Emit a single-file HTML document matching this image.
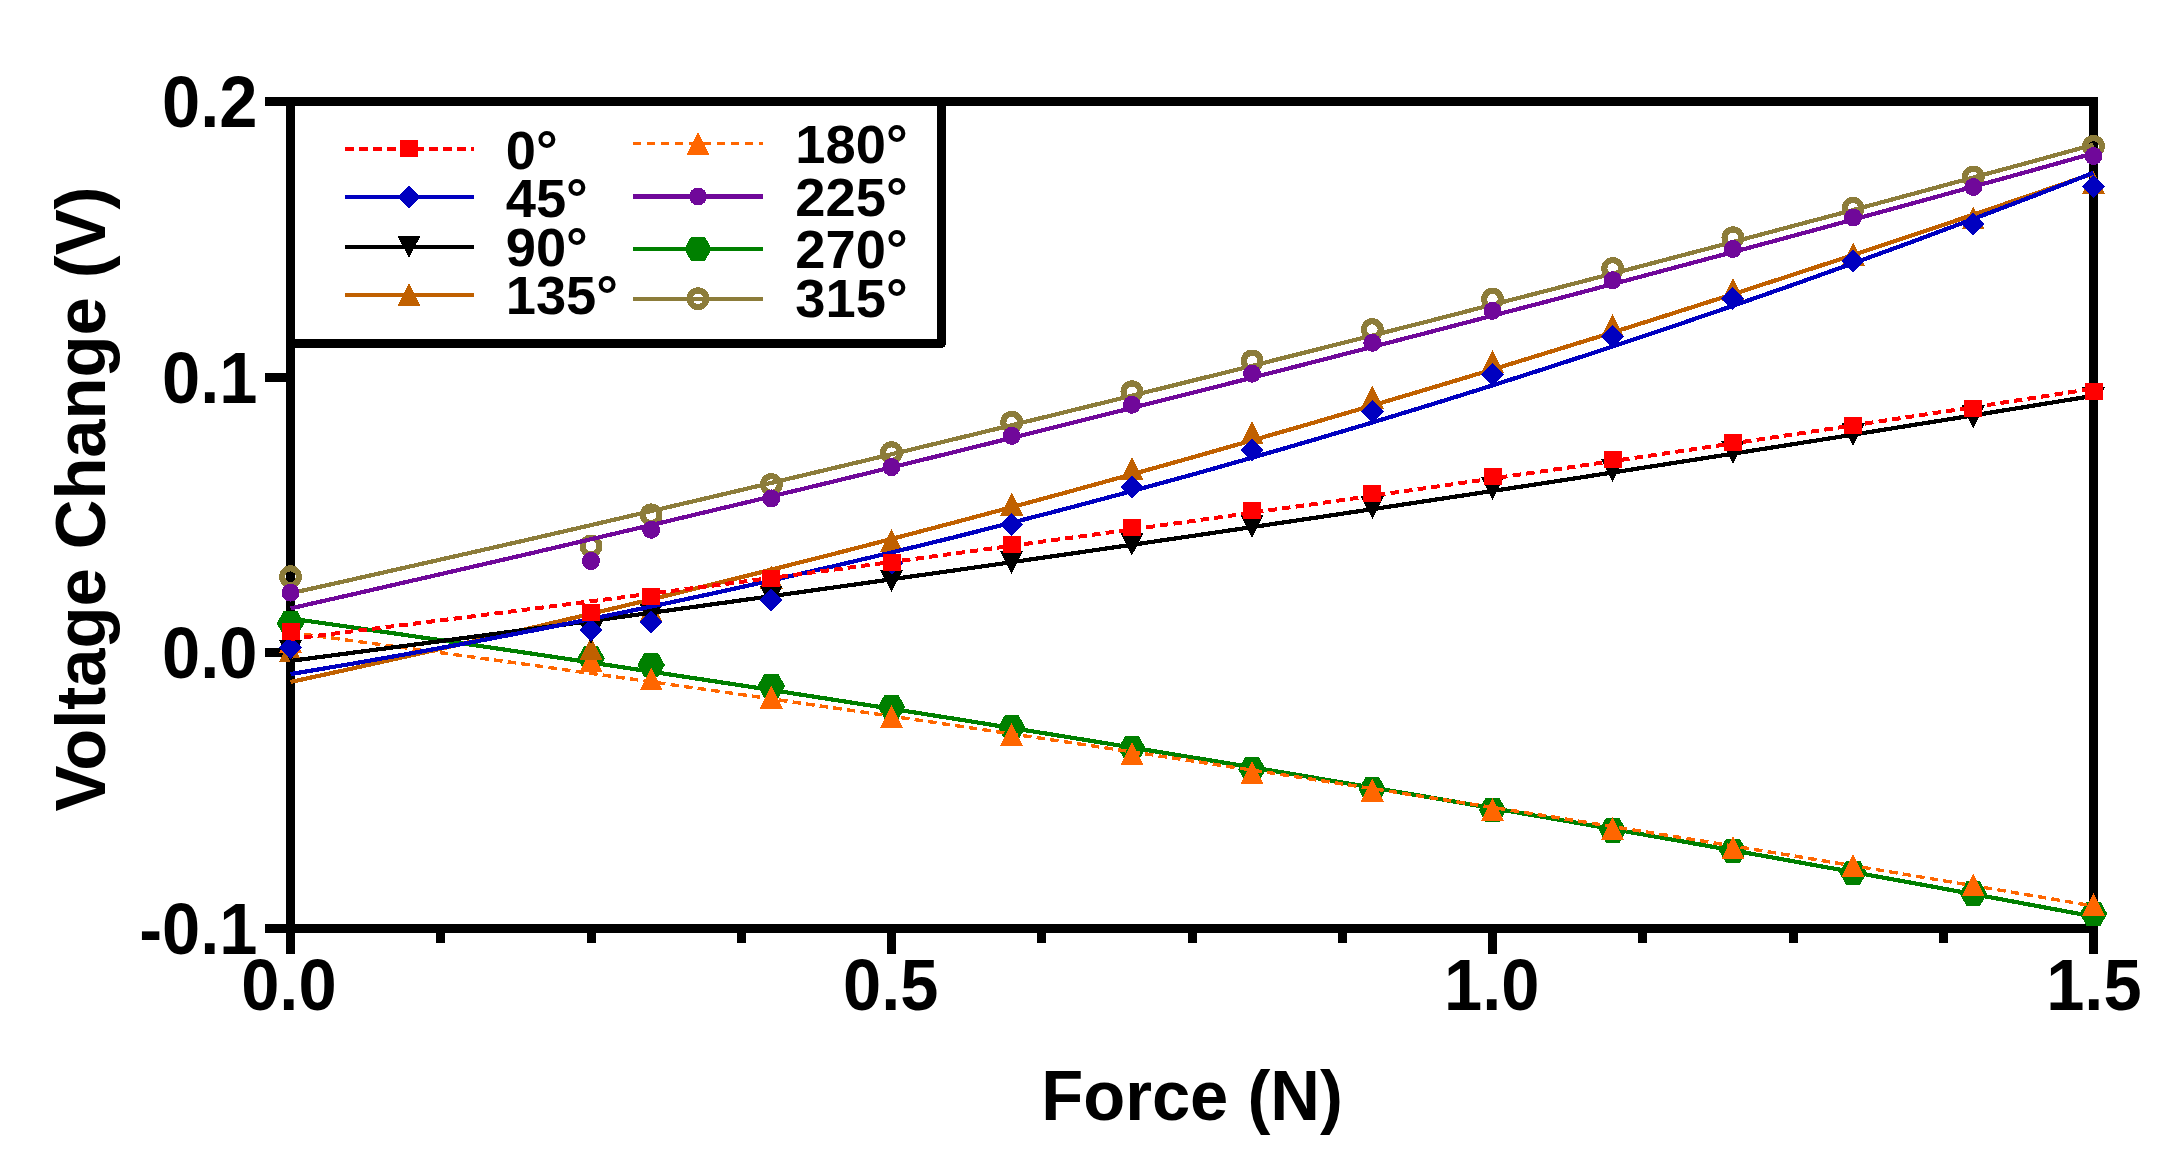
<!DOCTYPE html><html><head><meta charset="utf-8"><title>Voltage Change vs Force</title>
<style>html,body{margin:0;padding:0;background:#fff}body{width:2183px;height:1164px;overflow:hidden}svg{display:block}text{font-family:"Liberation Sans",Arial,sans-serif;font-weight:bold;fill:#000}</style></head><body>
<svg width="2183" height="1164" viewBox="0 0 2183 1164">
<rect width="2183" height="1164" fill="#fff"/>
<g shape-rendering="crispEdges">
<rect x="290.5" y="101.5" width="1803.0" height="827.0" fill="none" stroke="#000" stroke-width="9"/>
<rect x="265" y="97" width="26" height="9" fill="#000"/>
<rect x="265" y="372.7" width="26" height="9" fill="#000"/>
<rect x="265" y="648.3" width="26" height="9" fill="#000"/>
<rect x="265" y="924" width="26" height="9" fill="#000"/>
<rect x="286" y="928" width="9" height="26" fill="#000"/>
<rect x="436.2" y="928" width="9" height="15" fill="#000"/>
<rect x="586.5" y="928" width="9" height="15" fill="#000"/>
<rect x="736.8" y="928" width="9" height="15" fill="#000"/>
<rect x="887" y="928" width="9" height="26" fill="#000"/>
<rect x="1037.2" y="928" width="9" height="15" fill="#000"/>
<rect x="1187.5" y="928" width="9" height="15" fill="#000"/>
<rect x="1337.8" y="928" width="9" height="15" fill="#000"/>
<rect x="1488" y="928" width="9" height="26" fill="#000"/>
<rect x="1638.2" y="928" width="9" height="15" fill="#000"/>
<rect x="1788.5" y="928" width="9" height="15" fill="#000"/>
<rect x="1938.8" y="928" width="9" height="15" fill="#000"/>
<rect x="2089" y="928" width="9" height="26" fill="#000"/>
<rect x="290.5" y="101.5" width="651.0" height="242.0" fill="#fff" stroke="#000" stroke-width="9" stroke-linejoin="round"/>
<rect x="290.5" y="101.5" width="1803.0" height="827.0" fill="none" stroke="#000" stroke-width="9"/>
<polyline points="290.5,593.3 350.6,579.9 410.7,566.3 470.8,552.7 530.9,539 591,525.1 651.1,511.1 711.2,497.1 771.3,482.9 831.4,468.6 891.5,454.3 951.6,439.8 1011.7,425.2 1071.8,410.5 1131.9,395.7 1192,380.8 1252.1,365.8 1312.2,350.7 1372.3,335.5 1432.4,320.2 1492.5,304.7 1552.6,289.2 1612.7,273.6 1672.8,257.8 1732.9,242 1793,226 1853.1,210 1913.2,193.8 1973.3,177.5 2033.4,161.2 2093.5,144.7" fill="none" stroke="#8c7c3a" stroke-width="4.2"/>
<circle cx="290.5" cy="576.7" r="8.35" fill="none" stroke="#8c7c3a" stroke-width="6.2"/>
<circle cx="591" cy="546" r="8.35" fill="none" stroke="#8c7c3a" stroke-width="6.2"/>
<circle cx="651.1" cy="514.9" r="8.35" fill="none" stroke="#8c7c3a" stroke-width="6.2"/>
<circle cx="771.3" cy="484.5" r="8.35" fill="none" stroke="#8c7c3a" stroke-width="6.2"/>
<circle cx="891.5" cy="452.6" r="8.35" fill="none" stroke="#8c7c3a" stroke-width="6.2"/>
<circle cx="1011.7" cy="422.2" r="8.35" fill="none" stroke="#8c7c3a" stroke-width="6.2"/>
<circle cx="1131.9" cy="391.8" r="8.35" fill="none" stroke="#8c7c3a" stroke-width="6.2"/>
<circle cx="1252.1" cy="361" r="8.35" fill="none" stroke="#8c7c3a" stroke-width="6.2"/>
<circle cx="1372.3" cy="329.6" r="8.35" fill="none" stroke="#8c7c3a" stroke-width="6.2"/>
<circle cx="1492.5" cy="299.2" r="8.35" fill="none" stroke="#8c7c3a" stroke-width="6.2"/>
<circle cx="1612.7" cy="268.5" r="8.35" fill="none" stroke="#8c7c3a" stroke-width="6.2"/>
<circle cx="1732.9" cy="237.8" r="8.35" fill="none" stroke="#8c7c3a" stroke-width="6.2"/>
<circle cx="1853.1" cy="208.3" r="8.35" fill="none" stroke="#8c7c3a" stroke-width="6.2"/>
<circle cx="1973.3" cy="177" r="8.35" fill="none" stroke="#8c7c3a" stroke-width="6.2"/>
<circle cx="2093.5" cy="146.4" r="8.35" fill="none" stroke="#8c7c3a" stroke-width="6.2"/>
<polyline points="290.5,618.5 350.6,627.1 410.7,635.8 470.8,644.6 530.9,653.5 591,662.5 651.1,671.6 711.2,680.8 771.3,690 831.4,699.4 891.5,708.8 951.6,718.3 1011.7,728 1071.8,737.7 1131.9,747.5 1192,757.4 1252.1,767.3 1312.2,777.4 1372.3,787.6 1432.4,797.8 1492.5,808.2 1552.6,818.6 1612.7,829.1 1672.8,839.7 1732.9,850.4 1793,861.2 1853.1,872.1 1913.2,883.1 1973.3,894.1 2033.4,905.3 2093.5,916.5" fill="none" stroke="#008000" stroke-width="4.2"/>
<path d="M276.7 623.4L283.6 611.2L297.4 611.2L304.3 623.4L297.4 635.6L283.6 635.6Z" fill="#008000"/>
<path d="M577.2 658.5L584.1 646.3L597.9 646.3L604.8 658.5L597.9 670.7L584.1 670.7Z" fill="#008000"/>
<path d="M637.3 665L644.2 652.8L658 652.8L664.9 665L658 677.2L644.2 677.2Z" fill="#008000"/>
<path d="M757.5 686L764.4 673.8L778.2 673.8L785.1 686L778.2 698.2L764.4 698.2Z" fill="#008000"/>
<path d="M877.7 707L884.6 694.8L898.4 694.8L905.3 707L898.4 719.2L884.6 719.2Z" fill="#008000"/>
<path d="M997.9 727.4L1004.8 715.2L1018.6 715.2L1025.5 727.4L1018.6 739.6L1004.8 739.6Z" fill="#008000"/>
<path d="M1118.1 748.3L1125 736.1L1138.8 736.1L1145.7 748.3L1138.8 760.5L1125 760.5Z" fill="#008000"/>
<path d="M1238.3 769.4L1245.2 757.2L1259 757.2L1265.9 769.4L1259 781.6L1245.2 781.6Z" fill="#008000"/>
<path d="M1358.5 789.4L1365.4 777.2L1379.2 777.2L1386.1 789.4L1379.2 801.6L1365.4 801.6Z" fill="#008000"/>
<path d="M1478.7 810L1485.6 797.8L1499.4 797.8L1506.3 810L1499.4 822.2L1485.6 822.2Z" fill="#008000"/>
<path d="M1598.9 830.4L1605.8 818.2L1619.6 818.2L1626.5 830.4L1619.6 842.6L1605.8 842.6Z" fill="#008000"/>
<path d="M1719.1 850.9L1726 838.7L1739.8 838.7L1746.7 850.9L1739.8 863.1L1726 863.1Z" fill="#008000"/>
<path d="M1839.3 872.7L1846.2 860.5L1860 860.5L1866.9 872.7L1860 884.9L1846.2 884.9Z" fill="#008000"/>
<path d="M1959.5 893.6L1966.4 881.4L1980.2 881.4L1987.1 893.6L1980.2 905.8L1966.4 905.8Z" fill="#008000"/>
<path d="M2079.7 913.7L2086.6 901.5L2100.4 901.5L2107.3 913.7L2100.4 925.9L2086.6 925.9Z" fill="#008000"/>
<polyline points="290.5,608.4 350.6,594.8 410.7,581 470.8,567.2 530.9,553.3 591,539.2 651.1,525.1 711.2,510.8 771.3,496.5 831.4,482 891.5,467.4 951.6,452.7 1011.7,437.9 1071.8,423 1131.9,408 1192,392.9 1252.1,377.7 1312.2,362.4 1372.3,346.9 1432.4,331.4 1492.5,315.7 1552.6,300 1612.7,284.1 1672.8,268.1 1732.9,252.1 1793,235.9 1853.1,219.6 1913.2,203.2 1973.3,186.7 2033.4,170.1 2093.5,153.3" fill="none" stroke="#70089a" stroke-width="4.2"/>
<circle cx="290.5" cy="592.6" r="9" fill="#70089a"/>
<circle cx="591" cy="561" r="9" fill="#70089a"/>
<circle cx="651.1" cy="529.8" r="9" fill="#70089a"/>
<circle cx="771.3" cy="498.4" r="9" fill="#70089a"/>
<circle cx="891.5" cy="467.1" r="9" fill="#70089a"/>
<circle cx="1011.7" cy="435.9" r="9" fill="#70089a"/>
<circle cx="1131.9" cy="404.8" r="9" fill="#70089a"/>
<circle cx="1252.1" cy="373.7" r="9" fill="#70089a"/>
<circle cx="1372.3" cy="342.8" r="9" fill="#70089a"/>
<circle cx="1492.5" cy="310.9" r="9" fill="#70089a"/>
<circle cx="1612.7" cy="280.2" r="9" fill="#70089a"/>
<circle cx="1732.9" cy="249" r="9" fill="#70089a"/>
<circle cx="1853.1" cy="217.5" r="9" fill="#70089a"/>
<circle cx="1973.3" cy="187" r="9" fill="#70089a"/>
<circle cx="2093.5" cy="156" r="9" fill="#70089a"/>
<polyline points="290.5,632.4 350.6,640.5 410.7,648.6 470.8,656.8 530.9,665 591,673.4 651.1,681.8 711.2,690.3 771.3,698.9 831.4,707.5 891.5,716.2 951.6,725 1011.7,733.9 1071.8,742.8 1131.9,751.8 1192,760.9 1252.1,770.1 1312.2,779.3 1372.3,788.6 1432.4,798 1492.5,807.4 1552.6,816.9 1612.7,826.6 1672.8,836.2 1732.9,846 1793,855.8 1853.1,865.7 1913.2,875.7 1973.3,885.7 2033.4,895.8 2093.5,906" fill="none" stroke="#ff6600" stroke-width="3.4" stroke-dasharray="8.5 5.2"/>
<path d="M279 653.1L302 653.1L290.5 630.1Z" fill="#ff6600"/>
<path d="M579.5 672.3L602.5 672.3L591 649.3Z" fill="#ff6600"/>
<path d="M639.6 690.4L662.6 690.4L651.1 667.4Z" fill="#ff6600"/>
<path d="M759.8 708.7L782.8 708.7L771.3 685.7Z" fill="#ff6600"/>
<path d="M880 727.9L903 727.9L891.5 704.9Z" fill="#ff6600"/>
<path d="M1000.2 746.1L1023.2 746.1L1011.7 723.1Z" fill="#ff6600"/>
<path d="M1120.4 765.1L1143.4 765.1L1131.9 742.1Z" fill="#ff6600"/>
<path d="M1240.6 783.9L1263.6 783.9L1252.1 760.9Z" fill="#ff6600"/>
<path d="M1360.8 801.8L1383.8 801.8L1372.3 778.8Z" fill="#ff6600"/>
<path d="M1481 821.4L1504 821.4L1492.5 798.4Z" fill="#ff6600"/>
<path d="M1601.2 840.1L1624.2 840.1L1612.7 817.1Z" fill="#ff6600"/>
<path d="M1721.4 858.9L1744.4 858.9L1732.9 835.9Z" fill="#ff6600"/>
<path d="M1841.6 877.2L1864.6 877.2L1853.1 854.2Z" fill="#ff6600"/>
<path d="M1961.8 896.4L1984.8 896.4L1973.3 873.4Z" fill="#ff6600"/>
<path d="M2082 916L2105 916L2093.5 893Z" fill="#ff6600"/>
<polyline points="290.5,682 350.6,668.9 410.7,655.5 470.8,641.9 530.9,628 591,613.8 651.1,599.4 711.2,584.7 771.3,569.7 831.4,554.5 891.5,539 951.6,523.2 1011.7,507.2 1071.8,490.9 1131.9,474.3 1192,457.5 1252.1,440.4 1312.2,423.1 1372.3,405.5 1432.4,387.6 1492.5,369.5 1552.6,351 1612.7,332.4 1672.8,313.4 1732.9,294.2 1793,274.7 1853.1,255 1913.2,235 1973.3,214.7 2033.4,194.2 2093.5,173.4" fill="none" stroke="#c06000" stroke-width="4.2"/>
<path d="M279 661.9L302 661.9L290.5 638.9Z" fill="#c06000"/>
<path d="M579.5 660.3L602.5 660.3L591 637.3Z" fill="#c06000"/>
<path d="M639.6 622.3L662.6 622.3L651.1 599.3Z" fill="#c06000"/>
<path d="M759.8 588.5L782.8 588.5L771.3 565.5Z" fill="#c06000"/>
<path d="M880 552.1L903 552.1L891.5 529.1Z" fill="#c06000"/>
<path d="M1000.2 515.5L1023.2 515.5L1011.7 492.5Z" fill="#c06000"/>
<path d="M1120.4 480.1L1143.4 480.1L1131.9 457.1Z" fill="#c06000"/>
<path d="M1240.6 443.8L1263.6 443.8L1252.1 420.8Z" fill="#c06000"/>
<path d="M1360.8 408.6L1383.8 408.6L1372.3 385.6Z" fill="#c06000"/>
<path d="M1481 373.3L1504 373.3L1492.5 350.3Z" fill="#c06000"/>
<path d="M1601.2 337.1L1624.2 337.1L1612.7 314.1Z" fill="#c06000"/>
<path d="M1721.4 300.9L1744.4 300.9L1732.9 277.9Z" fill="#c06000"/>
<path d="M1841.6 265.5L1864.6 265.5L1853.1 242.5Z" fill="#c06000"/>
<path d="M1961.8 229.3L1984.8 229.3L1973.3 206.3Z" fill="#c06000"/>
<path d="M2082 193.8L2105 193.8L2093.5 170.8Z" fill="#c06000"/>
<polyline points="290.5,660.9 350.6,653 410.7,645.1 470.8,637.1 530.9,629.1 591,621 651.1,612.8 711.2,604.5 771.3,596.2 831.4,587.8 891.5,579.3 951.6,570.8 1011.7,562.2 1071.8,553.5 1131.9,544.8 1192,536 1252.1,527.1 1312.2,518.2 1372.3,509.2 1432.4,500.1 1492.5,491 1552.6,481.8 1612.7,472.5 1672.8,463.1 1732.9,453.7 1793,444.2 1853.1,434.7 1913.2,425 1973.3,415.4 2033.4,405.6 2093.5,395.8" fill="none" stroke="#000000" stroke-width="4.2"/>
<path d="M279 639.6L302 639.6L290.5 662.4Z" fill="#000000"/>
<path d="M579.5 621.6L602.5 621.6L591 644.4Z" fill="#000000"/>
<path d="M639.6 603.8L662.6 603.8L651.1 626.6Z" fill="#000000"/>
<path d="M759.8 585.6L782.8 585.6L771.3 608.4Z" fill="#000000"/>
<path d="M880 569.6L903 569.6L891.5 592.4Z" fill="#000000"/>
<path d="M1000.2 551.1L1023.2 551.1L1011.7 573.9Z" fill="#000000"/>
<path d="M1120.4 532.9L1143.4 532.9L1131.9 555.7Z" fill="#000000"/>
<path d="M1240.6 515L1263.6 515L1252.1 537.8Z" fill="#000000"/>
<path d="M1360.8 496.2L1383.8 496.2L1372.3 519Z" fill="#000000"/>
<path d="M1481 477.4L1504 477.4L1492.5 500.2Z" fill="#000000"/>
<path d="M1601.2 459.1L1624.2 459.1L1612.7 481.9Z" fill="#000000"/>
<path d="M1721.4 441.3L1744.4 441.3L1732.9 464.1Z" fill="#000000"/>
<path d="M1841.6 423.4L1864.6 423.4L1853.1 446.2Z" fill="#000000"/>
<path d="M1961.8 405.3L1984.8 405.3L1973.3 428.1Z" fill="#000000"/>
<path d="M2082 387.2L2105 387.2L2093.5 410Z" fill="#000000"/>
<polyline points="290.5,674.1 350.6,664 410.7,653.4 470.8,642.4 530.9,630.9 591,619 651.1,606.6 711.2,593.8 771.3,580.5 831.4,566.7 891.5,552.5 951.6,537.9 1011.7,522.7 1071.8,507.2 1131.9,491.1 1192,474.7 1252.1,457.7 1312.2,440.3 1372.3,422.5 1432.4,404.2 1492.5,385.4 1552.6,366.2 1612.7,346.5 1672.8,326.4 1732.9,305.8 1793,284.8 1853.1,263.3 1913.2,241.4 1973.3,219 2033.4,196.1 2093.5,172.8" fill="none" stroke="#0000c0" stroke-width="4.2"/>
<path d="M290.5 636.1L302 647.6L290.5 659.1L279 647.6Z" fill="#0000c0"/>
<path d="M591 618.6L602.5 630.1L591 641.6L579.5 630.1Z" fill="#0000c0"/>
<path d="M651.1 610.3L662.6 621.8L651.1 633.3L639.6 621.8Z" fill="#0000c0"/>
<path d="M771.3 588.4L782.8 599.9L771.3 611.4L759.8 599.9Z" fill="#0000c0"/>
<path d="M891.5 551.5L903 563L891.5 574.5L880 563Z" fill="#0000c0"/>
<path d="M1011.7 512.9L1023.2 524.4L1011.7 535.9L1000.2 524.4Z" fill="#0000c0"/>
<path d="M1131.9 475.5L1143.4 487L1131.9 498.5L1120.4 487Z" fill="#0000c0"/>
<path d="M1252.1 438.3L1263.6 449.8L1252.1 461.3L1240.6 449.8Z" fill="#0000c0"/>
<path d="M1372.3 399.8L1383.8 411.3L1372.3 422.8L1360.8 411.3Z" fill="#0000c0"/>
<path d="M1492.5 362.9L1504 374.4L1492.5 385.9L1481 374.4Z" fill="#0000c0"/>
<path d="M1612.7 325.1L1624.2 336.6L1612.7 348.1L1601.2 336.6Z" fill="#0000c0"/>
<path d="M1732.9 287L1744.4 298.5L1732.9 310L1721.4 298.5Z" fill="#0000c0"/>
<path d="M1853.1 249.6L1864.6 261.1L1853.1 272.6L1841.6 261.1Z" fill="#0000c0"/>
<path d="M1973.3 212.5L1984.8 224L1973.3 235.5L1961.8 224Z" fill="#0000c0"/>
<path d="M2093.5 174.9L2105 186.4L2093.5 197.9L2082 186.4Z" fill="#0000c0"/>
<polyline points="290.5,639 350.6,631.6 410.7,624.1 470.8,616.6 530.9,609 591,601.3 651.1,593.6 711.2,585.8 771.3,577.9 831.4,570 891.5,562 951.6,553.9 1011.7,545.8 1071.8,537.6 1131.9,529.4 1192,521.1 1252.1,512.7 1312.2,504.3 1372.3,495.7 1432.4,487.2 1492.5,478.5 1552.6,469.8 1612.7,461.1 1672.8,452.3 1732.9,443.4 1793,434.4 1853.1,425.4 1913.2,416.3 1973.3,407.2 2033.4,397.9 2093.5,388.7" fill="none" stroke="#ff0000" stroke-width="4" stroke-dasharray="8.5 5.2"/>
<rect x="281.5" y="622.5" width="18" height="17" fill="#ff0000"/>
<rect x="582" y="604.3" width="18" height="17" fill="#ff0000"/>
<rect x="642.1" y="587.9" width="18" height="17" fill="#ff0000"/>
<rect x="762.3" y="570.3" width="18" height="17" fill="#ff0000"/>
<rect x="882.5" y="553.8" width="18" height="17" fill="#ff0000"/>
<rect x="1002.7" y="535.8" width="18" height="17" fill="#ff0000"/>
<rect x="1122.9" y="518.9" width="18" height="17" fill="#ff0000"/>
<rect x="1243.1" y="502.1" width="18" height="17" fill="#ff0000"/>
<rect x="1363.3" y="485.3" width="18" height="17" fill="#ff0000"/>
<rect x="1483.5" y="468.3" width="18" height="17" fill="#ff0000"/>
<rect x="1603.7" y="451.2" width="18" height="17" fill="#ff0000"/>
<rect x="1723.9" y="434.3" width="18" height="17" fill="#ff0000"/>
<rect x="1844.1" y="417.2" width="18" height="17" fill="#ff0000"/>
<rect x="1964.3" y="400.1" width="18" height="17" fill="#ff0000"/>
<rect x="2084.5" y="382.9" width="18" height="17" fill="#ff0000"/>
<line x1="345" y1="148.9" x2="474" y2="148.9" stroke="#ff0000" stroke-width="4" stroke-dasharray="9 5"/>
<rect x="400" y="140.4" width="18" height="17" fill="#ff0000"/>
<line x1="345" y1="196.9" x2="474" y2="196.9" stroke="#0000c0" stroke-width="4.2"/>
<path d="M409 185.4L420.5 196.9L409 208.4L397.5 196.9Z" fill="#0000c0"/>
<line x1="345" y1="247" x2="474" y2="247" stroke="#000000" stroke-width="4.2"/>
<path d="M397.5 235.6L420.5 235.6L409 258.4Z" fill="#000000"/>
<line x1="345" y1="294.6" x2="474" y2="294.6" stroke="#c06000" stroke-width="4.2"/>
<path d="M397.5 306.1L420.5 306.1L409 283.1Z" fill="#c06000"/>
<line x1="633" y1="143.4" x2="763" y2="143.4" stroke="#ff6600" stroke-width="3.4" stroke-dasharray="8 6"/>
<path d="M686.5 154.9L709.5 154.9L698 131.9Z" fill="#ff6600"/>
<line x1="633" y1="196.5" x2="763" y2="196.5" stroke="#70089a" stroke-width="4.2"/>
<circle cx="698" cy="196.5" r="9" fill="#70089a"/>
<line x1="633" y1="248.9" x2="763" y2="248.9" stroke="#008000" stroke-width="4.2"/>
<path d="M684.2 248.9L691.1 236.7L704.9 236.7L711.8 248.9L704.9 261.1L691.1 261.1Z" fill="#008000"/>
<line x1="633" y1="298.7" x2="763" y2="298.7" stroke="#8c7c3a" stroke-width="4.2"/>
<circle cx="698" cy="298.7" r="8.35" fill="none" stroke="#8c7c3a" stroke-width="6.2"/>
</g>
<text x="505.7" y="168.7" font-size="54.3">0°</text>
<text x="505.7" y="216.5" font-size="54.3">45°</text>
<text x="505.7" y="265.5" font-size="54.3">90°</text>
<text x="505.7" y="313.8" font-size="54.3">135°</text>
<text x="795.3" y="163" font-size="54.3">180°</text>
<text x="795.3" y="215.7" font-size="54.3">225°</text>
<text x="795.3" y="267.5" font-size="54.3">270°</text>
<text x="795.3" y="317" font-size="54.3">315°</text>
<text transform="translate(257.5,127.1) scale(0.981,1.035)" font-size="70" text-anchor="end">0.2</text>
<text transform="translate(257.5,402.8) scale(0.981,1.035)" font-size="70" text-anchor="end">0.1</text>
<text transform="translate(257.5,678.4) scale(0.981,1.035)" font-size="70" text-anchor="end">0.0</text>
<text transform="translate(257.5,954.1) scale(0.981,1.035)" font-size="70" text-anchor="end">-0.1</text>
<text transform="translate(288.9,1010.3) scale(0.981,1.035)" font-size="70" text-anchor="middle">0.0</text>
<text transform="translate(890.7,1010.3) scale(0.981,1.035)" font-size="70" text-anchor="middle">0.5</text>
<text transform="translate(1491.7,1010.3) scale(0.981,1.035)" font-size="70" text-anchor="middle">1.0</text>
<text transform="translate(2093.9,1010.3) scale(0.981,1.035)" font-size="70" text-anchor="middle">1.5</text>
<text transform="translate(1192,1120) scale(0.982,1)" font-size="70" text-anchor="middle">Force (N)</text>
<text transform="translate(105,499) rotate(-90) scale(0.982,1)" font-size="70" text-anchor="middle">Voltage Change (V)</text>
</svg></body></html>
